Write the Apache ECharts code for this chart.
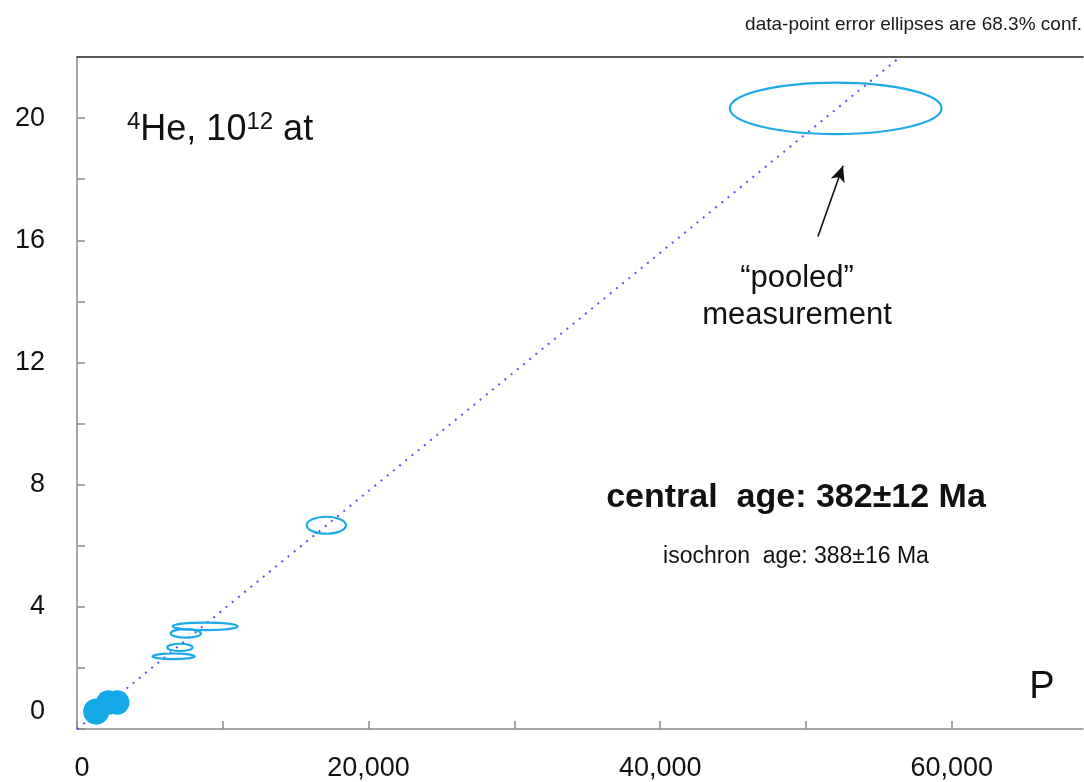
<!DOCTYPE html>
<html><head><meta charset="utf-8">
<script src="https://cdn.jsdelivr.net/npm/echarts@6/dist/echarts.min.js"></script>
<style>html,body{margin:0;padding:0;background:#fff}#c{width:1084px;height:782px}</style>
</head><body><div id="c"></div>
<script>
// ---- data ----
// open error ellipses: centre x (P), centre y (4He, 1e12 at), half-widths
const openX  = [17100, 8790, 7460, 7060, 6620, 52040];
const openY  = [6.67, 3.36, 3.13, 2.67, 2.38, 20.32];
const openSx = [1350, 2230, 1040, 870, 1450, 7260];
const openSy = [0.278, 0.124, 0.137, 0.121, 0.092, 0.843];
// filled (small) data-point ellipses
const fillX  = [1320, 2150, 2760];
const fillY  = [0.57, 0.87, 0.87];
const fillSx = [900, 840, 840];
const fillSy = [0.43, 0.40, 0.40];
// isochron line end points
const isoX = [0, 56450];
const isoY = [0, 22];
// annotation arrow (tail -> head)
const arrowX = [50820, 52540];
const arrowY = [16.12, 18.44];
// axis tick settings
const xTickStep = 10000, xLabelStep = 20000, xMax = 69000;
const yTickStep = 2, yLabelStep = 4, yMax = 22;

const FONT = '"Liberation Sans", Arial, Helvetica, sans-serif';
const zip4 = (a,b,c,d) => a.map((v,i)=>[v,b[i],c[i],d[i]]);

function ellipseItem(filled){
  return function(params, api){
    const c = api.coord([api.value(0), api.value(1)]);
    const s = api.size([api.value(2), api.value(3)]);
    return {
      type: 'ellipse',
      shape: {cx: c[0], cy: c[1], rx: s[0], ry: s[1]},
      style: filled ? {fill: '#16a9ea', stroke: null}
                    : {fill: 'none', stroke: '#1eaae8', lineWidth: 2.2}
    };
  };
}

const chart = echarts.init(document.getElementById('c'), null, {renderer: 'canvas'});
chart.setOption({
  animation: false,
  backgroundColor: '#fff',
  grid: {left: 77, right: 1, top: 57, bottom: 52},
  xAxis: [{
    type: 'value', min: 0, max: xMax, interval: xTickStep,
    axisLine: {show: true, lineStyle: {color: '#8a8a8a', width: 1.5}},
    axisTick: {show: true, inside: true, length: 8, lineStyle: {color: '#8a8a8a', width: 1.5}},
    splitLine: {show: false},
    axisLabel: {
      margin: 26, fontSize: 27, color: '#111', fontFamily: FONT,
      showMaxLabel: false,
      formatter: v => v % xLabelStep === 0 ? (v === 0 ? '{z|0}' : v.toLocaleString('en-US')) : '',
      rich: {z: {fontSize: 27, fontFamily: FONT, color: '#111', padding: [0, 0, 0, 10]}}
    }
  }, {
    type: 'value', position: 'top', min: 0, max: xMax,
    axisLine: {show: true, onZero: false, lineStyle: {color: '#222', width: 1.5}},
    axisTick: {show: false}, axisLabel: {show: false}, splitLine: {show: false}
  }],
  yAxis: {
    type: 'value', min: 0, max: yMax, interval: yTickStep,
    axisLine: {show: true, lineStyle: {color: '#8a8a8a', width: 1.5}},
    axisTick: {show: true, inside: true, length: 8, lineStyle: {color: '#8a8a8a', width: 1.5}},
    splitLine: {show: false},
    axisLabel: {
      margin: 32, fontSize: 27, color: '#111', fontFamily: FONT,
      showMaxLabel: false,
      formatter: v => (v % yLabelStep === 0 && v <= 20) ? (v === 0 ? '{z|0}' : String(v)) : '',
      rich: {z: {fontSize: 27, fontFamily: FONT, color: '#111', padding: [0, 0, 34, 0]}}
    }
  },
  series: [
    {
      type: 'line', xAxisIndex: 0, yAxisIndex: 0,
      data: isoX.map((x,i)=>[x, isoY[i]]),
      showSymbol: false, symbol: 'none', silent: true,
      lineStyle: {color: '#5558f2', width: 2, type: [2, 6]},
      z: 1
    },
    {
      type: 'custom', xAxisIndex: 0, yAxisIndex: 0,
      renderItem: ellipseItem(false),
      data: zip4(openX, openY, openSx, openSy),
      encode: {x: 0, y: 1}, z: 3
    },
    {
      type: 'custom', xAxisIndex: 0, yAxisIndex: 0,
      renderItem: ellipseItem(true),
      data: zip4(fillX, fillY, fillSx, fillSy),
      encode: {x: 0, y: 1}, z: 3
    },
    {
      type: 'scatter', xAxisIndex: 0, yAxisIndex: 0, data: [], silent: true,
      markLine: {
        silent: true, animation: false,
        symbol: ['none', 'arrow'], symbolSize: [11, 16],
        lineStyle: {color: '#111', width: 1.6, type: 'solid'},
        label: {show: false},
        data: [[{coord: [arrowX[0], arrowY[0]]}, {coord: [arrowX[1], arrowY[1]]}]]
      }
    }
  ],
  graphic: [
    {type: 'text', x: 1082, y: 25, style: {text: 'data-point error ellipses are 68.3% conf.',
      font: '19px ' + FONT, fill: '#1a1a1a', align: 'right', verticalAlign: 'middle'}},
    {type: 'text', x: 127, y: 130, style: {
      text: '{s|4}{n|He, 10}{s|12}{n| at}',
      align: 'left', verticalAlign: 'middle',
      rich: {
        s: {fontSize: 24, fontFamily: FONT, fill: '#111', verticalAlign: 'top', lineHeight: 40},
        n: {fontSize: 36, fontFamily: FONT, fill: '#111', lineHeight: 40}
      }}},
    {type: 'text', x: 797, y: 297, style: {text: '\u201Cpooled\u201D\nmeasurement',
      font: '31px ' + FONT, fill: '#111', align: 'center', verticalAlign: 'middle', lineHeight: 37}},
    {type: 'text', x: 796, y: 498, style: {text: 'central  age: 382\u00B112 Ma',
      font: 'bold 34px ' + FONT, fill: '#111', align: 'center', verticalAlign: 'middle'}},
    {type: 'text', x: 796, y: 557, style: {text: 'isochron  age: 388\u00B116 Ma',
      font: '23px ' + FONT, fill: '#111', align: 'center', verticalAlign: 'middle'}},
    {type: 'text', x: 1042, y: 688, style: {text: 'P',
      font: '38px ' + FONT, fill: '#111', align: 'center', verticalAlign: 'middle'}}
  ]
});
</script>
</body></html>
